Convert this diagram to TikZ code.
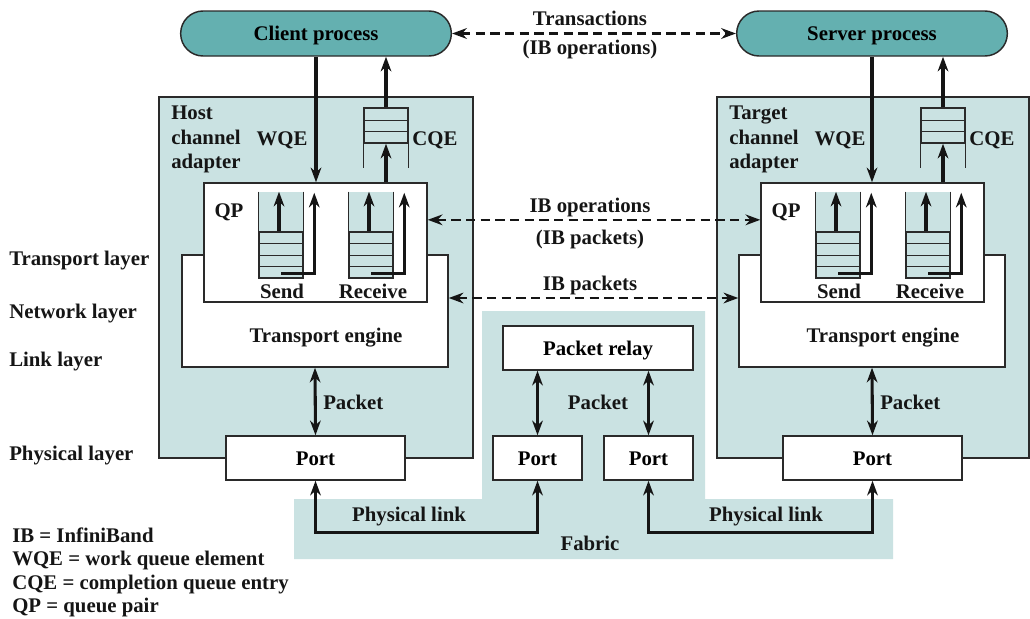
\documentclass[tikz,border=0pt]{standalone}
\usepackage{fontspec}
\setmainfont{Liberation Serif}
\usetikzlibrary{arrows.meta, positioning}
\definecolor{procfill}{HTML}{64B0B0}
\definecolor{hcafill}{HTML}{CAE2E2}
\definecolor{edge}{HTML}{2A2A2A}
\definecolor{ink}{HTML}{151515}
\newcommand{\lblfont}{\fontsize{15.6}{18.4}\selectfont\bfseries}
\tikzstyle{process} = [rectangle, rounded corners=16.8pt,
  fill=procfill, draw=edge, line width=1.1pt, text height=11pt, text depth=0pt,
  font=\lblfont, minimum width=203pt, minimum height=33.75pt]
\tikzstyle{adapter} = [rectangle, fill=hcafill, draw=edge, line width=1.1pt,
  minimum width=235.5pt, minimum height=270.75pt]
\tikzstyle{engine} = [rectangle, fill=white, draw=edge, line width=1.1pt,
  minimum width=199.5pt, minimum height=84pt]
\tikzstyle{qpbox} = [rectangle, fill=white, draw=edge, line width=1.1pt,
  minimum width=167.25pt, minimum height=89.25pt]
\tikzstyle{port} = [rectangle, fill=white, draw=edge, line width=1.1pt,
  text height=11pt, text depth=0pt,
  font=\lblfont, minimum width=134.25pt, minimum height=33pt]
\tikzstyle{column} = [rectangle, fill=hcafill, inner sep=0pt,
  minimum width=33pt, minimum height=64.5pt]
\tikzstyle{stack} = [rectangle, draw=edge, line width=1.1pt, inner sep=0pt,
  minimum width=33pt, minimum height=34.5pt]
\tikzstyle{cstack} = [rectangle, draw=edge, line width=1.1pt, inner sep=0pt,
  minimum width=33pt, minimum height=26.25pt]
\tikzstyle{lbl} = [font=\lblfont, inner sep=0pt, text height=11pt, text depth=0pt, text=ink]
\tikzstyle{arrow} = [-{Stealth[length=11pt, width=8pt, inset=3.5pt]}, line width=2.3pt, ink]
\tikzstyle{dblarrow} = [{Stealth[length=11pt, width=8pt, inset=3.5pt]}-{Stealth[length=11pt, width=8pt, inset=3.5pt]},
  line width=2.3pt, ink]
\tikzstyle{dasharrow} = [{Stealth[length=11pt, width=8pt, inset=3.5pt]}-{Stealth[length=11pt, width=8pt, inset=3.5pt]},
  line width=2pt, ink, dash pattern=on 7pt off 4pt]

\begin{document}
\begin{tikzpicture}[x=0.75pt, y=-0.75pt]
  \useasboundingbox (0,0) rectangle (1030,618);

  % Fabric
  \fill[hcafill] (482,311) -- (705,311) -- (705,499) -- (893,499) -- (893,559)
    -- (294,559) -- (294,499) -- (482,499) -- cycle;

  \node[process] (client) at (316,33.5) {Client process};
  \node[process] (server) at (872,33.5) {Server process};

  \node[adapter] (hca) at (316,277.5) {};
  \node[adapter, minimum width=234pt] (tca) at (873,277.5) {};

  \node[engine] (hte) at (315,311) {};
  \node[engine] (tte) at (872,311) {};
  \node[qpbox] (hqp) at (315.5,242.5) {};
  \node[qpbox] (tqp) at (872.5,242.5) {};

  % Send / receive queues
  \node[column] (hsq) at (281,235) {};
  \node[column] (hrq) at (371,235) {};
  \node[column] (tsq) at (838,235) {};
  \node[column] (trq) at (928,235) {};
  \node[stack] (hss) at (281,255) {};
  \node[stack] (hrs) at (371,255) {};
  \node[stack] (tss) at (838,255) {};
  \node[stack] (trs) at (928,255) {};
  \foreach \q in {hsq,hrq,tsq,trq}
    \draw[edge, line width=1.1pt] (\q.north west) -- (\q.south west) (\q.north east) -- (\q.south east);
  \foreach \q in {hss,hrs,tss,trs}
    \foreach \d in {12,24,35}
      \draw[edge, line width=1.1pt] ([yshift=-\d*0.75pt]\q.north west) -- ([yshift=-\d*0.75pt]\q.north east);

  % Completion queues
  \node[cstack] (hcq) at (386,125.5) {};
  \node[cstack] (tcq) at (943,125.5) {};
  \foreach \q in {hcq,tcq} {
    \draw[edge, line width=1.1pt] (\q.south west) -- ++(0,24) (\q.south east) -- ++(0,24);
    \foreach \d in {13,24}
      \draw[edge, line width=1.1pt] ([yshift=-\d*0.75pt]\q.north west) -- ([yshift=-\d*0.75pt]\q.north east);
  }

  \node[port] (hport) at (315.5,458) {Port};
  \node[port] (tport) at (872.5,458) {Port};
  \node[port, minimum width=142.5pt] (relay) at (598,348) {Packet relay};
  \node[port, minimum width=66.75pt] (fport1) at (537.5,458) {Port};
  \node[port, minimum width=66.75pt] (fport2) at (648.5,458) {Port};

  % Labels
  \node[lbl, text height=, text depth=, anchor=west, align=left] (hcalabel) at (171,139.5) {Host\\channel\\adapter};
  \node[lbl, text height=, text depth=, anchor=west, align=left] (tcalabel) at (729,139.5) {Target\\channel\\adapter};
  \node[lbl] (hwqe) at (282,138) {WQE};
  \node[lbl] (twqe) at (840,138) {WQE};
  \node[lbl] (hcqe) at (435,138) {CQE};
  \node[lbl] (tcqe) at (992,138) {CQE};
  \node[lbl] (hqplabel) at (229,210) {QP};
  \node[lbl] (tqplabel) at (786,210) {QP};
  \node[lbl] (hsend) at (282,291) {Send};
  \node[lbl] (hrecv) at (373,291) {Receive};
  \node[lbl] (tsend) at (839,291) {Send};
  \node[lbl] (trecv) at (930,291) {Receive};
  \node[lbl] (hteText) at (326,335) {Transport engine};
  \node[lbl] (tteText) at (883,335) {Transport engine};
  \node[lbl, anchor=west] (hpacket) at (323,402) {Packet};
  \node[lbl, anchor=west] (tpacket) at (880,402) {Packet};
  \node[lbl] (fpacket) at (598,402) {Packet};
  \node[lbl] (hlink) at (409,514) {Physical link};
  \node[lbl] (tlink) at (766,514) {Physical link};
  \node[lbl] (fabric) at (590,543) {Fabric};
  \node[lbl] (trans) at (590,18) {Transactions};
  \node[lbl] (transib) at (590,47) {(IB operations)};
  \node[lbl] (ibops) at (590,205) {IB operations};
  \node[lbl] (ibopspk) at (590,237) {(IB packets)};
  \node[lbl] (ibpk) at (590,283) {IB packets};

  \node[lbl, anchor=west] (ltrans) at (9,258) {Transport layer};
  \node[lbl, anchor=west] (lnet) at (9,311) {Network layer};
  \node[lbl, anchor=west] (llink) at (9,359) {Link layer};
  \node[lbl, anchor=west] (lphys) at (9,453) {Physical layer};
  \node[lbl, anchor=west] (key1) at (12,535) {IB = InfiniBand};
  \node[lbl, anchor=west] (key2) at (12,558) {WQE = work queue element};
  \node[lbl, anchor=west] (key3) at (12,582) {CQE = completion queue entry};
  \node[lbl, anchor=west] (key4) at (12,605) {QP = queue pair};

  % Work and completion flow
  \draw[arrow] (client.south) -- (client.south |- hqp.north);
  \draw[arrow] (hqp.north -| hcq) -- (hcq.south);
  \draw[arrow] (hcq.north) -- (hcq.north |- client.south);
  \draw[arrow] (server.south) -- (server.south |- tqp.north);
  \draw[arrow] (tqp.north -| tcq) -- (tcq.south);
  \draw[arrow] (tcq.north) -- (tcq.north |- server.south);

  \foreach \q/\c in {hss/hsq, hrs/hrq, tss/tsq, trs/trq} {
    \draw[arrow] ([xshift=-1.5pt]\q.north) -- ([xshift=-1.5pt]\q.north |- \c.north);
    \draw[arrow] ([yshift=3.75pt]\q.south) -| ([xshift=8.25pt, yshift=-0.75pt]\c.north east);
  }

  % Packets and links
  \draw[dblarrow] (hte.south) -- (hport.north);
  \draw[dblarrow] (tte.south) -- (tport.north);
  \draw[dblarrow] (relay.south -| fport1) -- (fport1.north);
  \draw[dblarrow] (relay.south -| fport2) -- (fport2.north);
  \draw[dblarrow] (hport.south) -- ++(0,52) -| (fport1.south);
  \draw[dblarrow] (fport2.south) -- ++(0,52) -| (tport.south);

  % Peer exchanges
  \draw[dasharrow] (client.east) -- (server.west);
  \draw[dasharrow] ([yshift=17pt]hqp.east) -- ([yshift=17pt]tqp.west);
  \draw[dasharrow] ([yshift=9.75pt]hte.east) -- ([yshift=9.75pt]tte.west);

\end{tikzpicture}
\end{document}
